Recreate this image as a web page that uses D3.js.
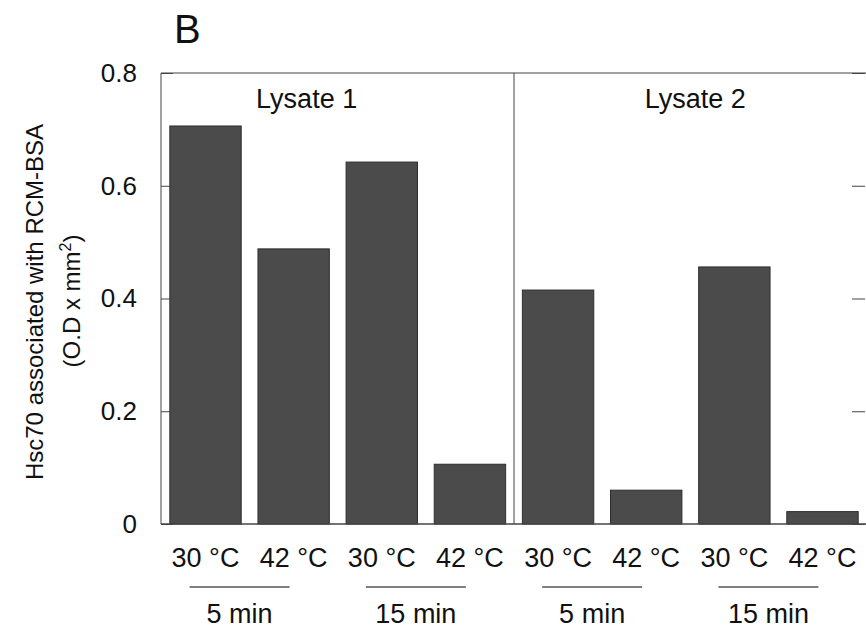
<!DOCTYPE html>
<html>
<head>
<meta charset="utf-8">
<script src="https://cdn.jsdelivr.net/npm/d3@7"></script>
<style>
body{margin:0;background:#fff;}
text{font-family:"Liberation Sans",Arial,sans-serif;fill:#111;}
</style>
</head>
<body>
<div id="root"></div>
<script>
// data
var temps=['30 °C','42 °C','30 °C','42 °C','30 °C','42 °C','30 °C','42 °C'];
var values=[0.706,0.488,0.642,0.106,0.415,0.060,0.456,0.022];
var times=['5 min','15 min','5 min','15 min'];
var lysates=['Lysate 1','Lysate 2'];
var yTicks=[0,0.2,0.4,0.6,0.8];

var W=866,H=631;
var b={t:73,r:0,b:107,l:161};

var svg=d3.select('#root').append('svg')
	.attr('width',W).attr('height',H);

var x=d3.scaleBand()
	.domain(d3.range(values.length))
	.range([b.l,W-b.r+1])
	.paddingInner(0.19).paddingOuter(0.1);

var y=d3.scaleLinear().domain([0,0.8]).range([H-b.b,b.t]);

// bars
svg.selectAll('rect.bar').data(values).enter().append('rect')
	.attr('class','bar')
	.attr('x',function(d,i){return x(i)})
	.attr('y',function(d){return y(d)})
	.attr('width',x.bandwidth())
	.attr('height',function(d){return y(0)-y(d)})
	.attr('fill','#4b4b4b').attr('stroke','#2e2e2e').attr('stroke-width',1);

// frame
var left=b.l, right=W-b.r+1;
svg.append('line').attr('x1',left).attr('x2',right).attr('y1',y(0.8)).attr('y2',y(0.8)).attr('stroke','#444');
svg.append('line').attr('x1',left).attr('x2',right).attr('y1',y(0)).attr('y2',y(0)).attr('stroke','#444').attr('stroke-width',1.5);
svg.append('line').attr('x1',left).attr('x2',left).attr('y1',y(0.8)).attr('y2',y(0)).attr('stroke','#444');
var mid=(x(3)+x.bandwidth()+x(4))/2;
svg.append('line').attr('x1',mid).attr('x2',mid).attr('y1',y(0.8)).attr('y2',y(0)).attr('stroke','#444');

// y axis inward ticks on both sides
var yAxisL=d3.axisLeft(y).tickValues(yTicks).tickSize(-12).tickPadding(24)
	.tickFormat(function(d){return d==0?'0':d3.format('.1f')(d)});
var gl=svg.append('g').attr('transform','translate('+left+',0)').call(yAxisL);
gl.select('.domain').remove();
gl.selectAll('line').attr('stroke','#444');
gl.selectAll('text').attr('font-size',26).style('font-family','"Liberation Sans",Arial,sans-serif').attr('fill','#111');

var gr=svg.append('g').attr('transform','translate('+(W-1)+',0)').call(d3.axisRight(y).tickValues(yTicks).tickSize(-13).tickFormat(''));
gr.select('.domain').remove();
gr.selectAll('line').attr('stroke','#444');

// lysate labels
svg.selectAll('text.lys').data(lysates).enter().append('text')
	.attr('class','lys')
	.attr('x',function(d,i){return i==0?x(1)+x.bandwidth()/2+13:(x(4)+x(7)+x.bandwidth())/2+5})
	.attr('y',108)
	.attr('text-anchor','middle').attr('font-size',27)
	.text(function(d){return d});

// x category labels
svg.selectAll('text.temp').data(temps).enter().append('text')
	.attr('class','temp')
	.attr('x',function(d,i){return x(i)+x.bandwidth()/2})
	.attr('y',567)
	.attr('text-anchor','middle').attr('font-size',27)
	.text(function(d){return d});

// time groups
var tg=svg.selectAll('g.time').data(times).enter().append('g').attr('class','time')
	.attr('transform',function(d,i){
		var c=(x(i*2)+x(i*2+1)+x.bandwidth())/2-10;
		return 'translate('+c+',0)'});
tg.append('line').attr('x1',-50).attr('x2',50).attr('y1',587).attr('y2',587).attr('stroke','#555').attr('stroke-width',1.5);
tg.append('text').attr('x',0).attr('y',623).attr('text-anchor','middle').attr('font-size',27).text(function(d){return d});

// y title
var yt=svg.append('text').attr('transform','translate(43,302) rotate(-90)').attr('text-anchor','middle').attr('font-size',24);
yt.text('Hsc70  associated with RCM-BSA');
var yt2=svg.append('text').attr('transform','translate(80,301) rotate(-90)').attr('text-anchor','middle').attr('font-size',24);
yt2.append('tspan').text('(O.D x mm');
yt2.append('tspan').attr('font-size',16).attr('dy',-9).text('2');
yt2.append('tspan').attr('dy',9).text(')');

// panel letter
svg.append('text').attr('x',174).attr('y',43).attr('font-size',40).text('B');
</script>
</body>
</html>
